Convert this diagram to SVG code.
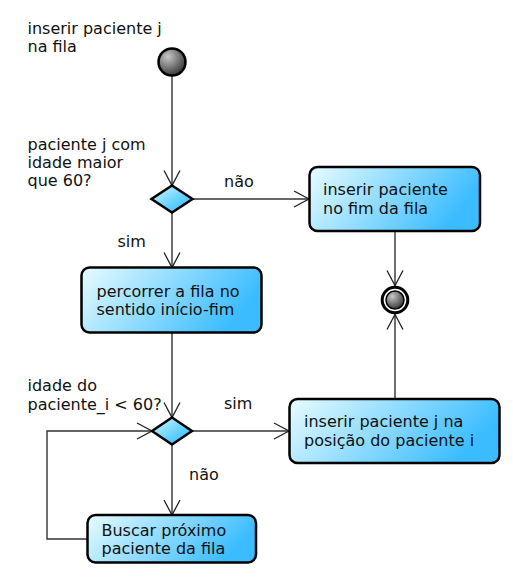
<svg xmlns="http://www.w3.org/2000/svg" width="513" height="577" viewBox="0 0 513 577">
<defs>
<linearGradient id="boxg" x1="0" y1="0" x2="1" y2="0.3">
<stop offset="0" stop-color="#e8fcff"/>
<stop offset="1" stop-color="#3bbcff"/>
</linearGradient>
<linearGradient id="diag" x1="0" y1="0" x2="1" y2="1">
<stop offset="0" stop-color="#d8f8ff"/>
<stop offset="0.6" stop-color="#5fd0ff"/>
<stop offset="1" stop-color="#3ab8ff"/>
</linearGradient>
<radialGradient id="ball" cx="0.35" cy="0.3" r="0.8">
<stop offset="0" stop-color="#c8c8c8"/>
<stop offset="1" stop-color="#2a2a2a"/>
</radialGradient>
<marker id="arr" viewBox="0 0 20 20" refX="16" refY="10" markerWidth="20" markerHeight="20" markerUnits="userSpaceOnUse" orient="auto">
<path d="M1,2 L16,10 L1,18" fill="none" stroke="#222" stroke-width="1.3"/>
</marker>
<style>
.box{fill:url(#boxg);stroke:#000;stroke-width:2.5}
.dia{fill:url(#diag);stroke:#000;stroke-width:2.5}
.ln{fill:none;stroke:#333;stroke-width:1.4}
.t{font-family:"DejaVu Sans",sans-serif;font-size:16px;fill:#111}
</style>
</defs>
<g id="labels">
<text class="t" x="27.5" y="34">inserir paciente j</text>
<text class="t" x="27.5" y="52">na fila</text>
<text class="t" x="27.5" y="149.5">paciente j com</text>
<text class="t" x="27.5" y="167.5">idade maior</text>
<text class="t" x="27.5" y="185.5">que 60?</text>
<text class="t" x="27.5" y="391">idade do</text>
<text class="t" x="27.5" y="409.5">paciente_i &lt; 60?</text>
</g>
<g id="connectors">
<line class="ln" x1="172" y1="76" x2="172" y2="185.5" marker-end="url(#arr)"/>
<line class="ln" x1="192.5" y1="199" x2="309" y2="199" marker-end="url(#arr)"/>
<text class="t" x="224" y="187">não</text>
<line class="ln" x1="172" y1="212.5" x2="172" y2="267.5" marker-end="url(#arr)"/>
<text class="t" x="117.5" y="247">sim</text>
<line class="ln" x1="395" y1="231" x2="395" y2="285.5" marker-end="url(#arr)"/>
<line class="ln" x1="395" y1="399" x2="395" y2="314.5" marker-end="url(#arr)"/>
<line class="ln" x1="172" y1="332.5" x2="172" y2="417.5" marker-end="url(#arr)"/>
<line class="ln" x1="192" y1="431" x2="289" y2="431" marker-end="url(#arr)"/>
<text class="t" x="224" y="408.5">sim</text>
<line class="ln" x1="172" y1="444.5" x2="172" y2="515" marker-end="url(#arr)"/>
<text class="t" x="189" y="480">não</text>
<polyline class="ln" points="87,539 47,539 47,431 152,431" marker-end="url(#arr)"/>
</g>
<g id="start">
<circle cx="172" cy="62" r="13.5" fill="url(#ball)" stroke="#000" stroke-width="2.5"/>
</g>
<g id="decision1">
<polygon class="dia" points="172,185.5 192.5,199 172,212.5 151.5,199"/>
</g>
<g id="insertEnd">
<rect class="box" x="309.5" y="167" width="170.5" height="64" rx="8"/>
<text class="t" x="323" y="195">inserir paciente</text>
<text class="t" x="323" y="213.5">no fim da fila</text>
</g>
<g id="traverse">
<rect class="box" x="81.5" y="267.5" width="180" height="65" rx="8"/>
<text class="t" x="96.5" y="297">percorrer a fila no</text>
<text class="t" x="96.5" y="315">sentido início-fim</text>
</g>
<g id="end">
<circle cx="395" cy="300" r="12.8" fill="#fff" stroke="#000" stroke-width="3"/>
<circle cx="395" cy="300" r="9" fill="url(#ball)" stroke="#000" stroke-width="1.5"/>
</g>
<g id="decision2">
<polygon class="dia" points="172,417.5 192,431 172,444.5 152,431"/>
</g>
<g id="insertPos">
<rect class="box" x="289.5" y="399" width="210" height="64" rx="8"/>
<text class="t" x="304" y="427">inserir paciente j na</text>
<text class="t" x="304" y="445.5">posição do paciente i</text>
</g>
<g id="next">
<rect class="box" x="87.5" y="515" width="168.5" height="47.5" rx="8"/>
<text class="t" x="101.5" y="535.5">Buscar próximo</text>
<text class="t" x="101.5" y="553.5">paciente da fila</text>
</g>
</svg>
